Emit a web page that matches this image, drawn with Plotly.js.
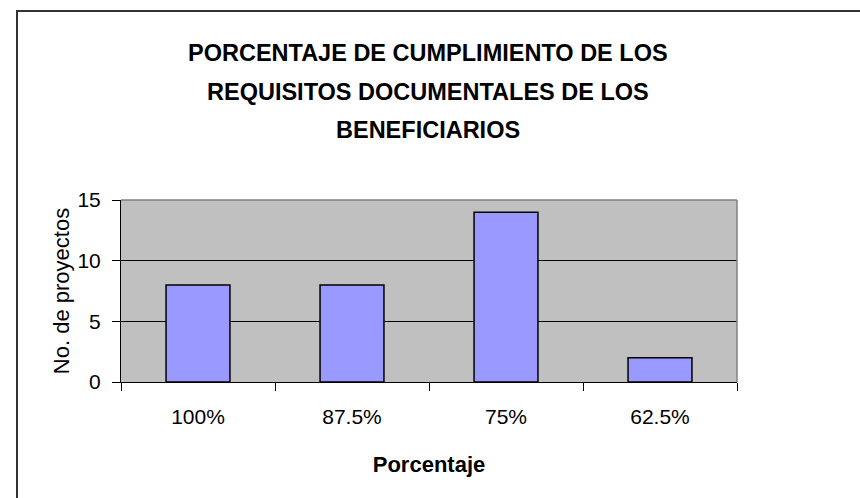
<!DOCTYPE html>
<html>
<head>
<meta charset="utf-8">
<script src="https://cdn.plot.ly/plotly-3.0.1.min.js"></script>
<style>html,body{margin:0;padding:0;background:#fff;}#chart{width:860px;height:498px;}</style>
</head>
<body>
<div id="chart"></div>
<script>
const categories = ["100%", "87.5%", "75%", "62.5%"];
const projects = [8, 8, 14, 2];
const titleLines = ["PORCENTAJE DE CUMPLIMIENTO DE LOS", "REQUISITOS DOCUMENTALES DE LOS", "BENEFICIARIOS"];
const xTitle = "Porcentaje";
const yTitle = "No. de proyectos";
const yTicks = [0, 5, 10, 15];

const W = 860, H = 498;
const L = 121, R = 737, T = 200, B = 382;
const px = x => (x - L) / (R - L);
const py = y => (B - y) / (B - T);
const FONT = "Liberation Sans, Arial, sans-serif";

const titleY = [53, 92, 130];
const annotations = titleLines.map((t, i) => ({
  text: "<b>" + t + "</b>", xref: "paper", yref: "paper",
  x: px(428), y: py(titleY[i]), xanchor: "center", yanchor: "middle",
  showarrow: false, font: {family: FONT, size: 23.5, color: "#000"}
}));

const trace = {
  type: "bar", x: categories, y: projects,
  marker: {color: "#9999FF", line: {color: "#000", width: 1.5}},
  hoverinfo: "x+y"
};

const layout = {
  width: W, height: H,
  margin: {l: L, r: W - R, t: T, b: H - B, pad: 0},
  paper_bgcolor: "#fff", plot_bgcolor: "#C0C0C0",
  showlegend: false, bargap: 0.585,
  font: {family: FONT, color: "#000"},
  xaxis: {
    type: "category", showline: true, linecolor: "#000", linewidth: 1,
    ticks: "outside", tickson: "boundaries", ticklen: 8, tickcolor: "#000", tickwidth: 1,
    showgrid: false, tickfont: {family: FONT, size: 21, color: "#000"},
    ticklabelstandoff: 16,
    title: {text: "<b>" + xTitle + "</b>", font: {family: FONT, size: 22, color: "#000"}, standoff: 29},
    fixedrange: true
  },
  yaxis: {
    range: [0, 15], tickvals: yTicks, ticktext: yTicks.map(String),
    showline: true, linecolor: "#000", linewidth: 1,
    ticks: "outside", ticklen: 8, tickcolor: "#000", tickwidth: 1,
    showgrid: true, gridcolor: "#000", gridwidth: 1, zeroline: false,
    tickfont: {family: FONT, size: 21, color: "#000"}, ticklabelstandoff: 7,
    title: {text: yTitle, font: {family: FONT, size: 22, color: "#000"}, standoff: 1},
    fixedrange: true
  },
  annotations: annotations,
  shapes: [
    {type: "line", xref: "paper", yref: "paper", x0: 0, x1: 1, y0: 1, y1: 1, line: {color: "#808080", width: 1.5}, layer: "above"},
    {type: "line", xref: "paper", yref: "paper", x0: 1, x1: 1, y0: 0, y1: 1, line: {color: "#808080", width: 1.5}, layer: "above"},
    {type: "rect", xref: "paper", yref: "paper", x0: px(17), x1: px(870), y0: py(510), y1: py(11), line: {color: "#333", width: 2}, fillcolor: "rgba(0,0,0,0)", layer: "above"}
  ]
};

Plotly.newPlot("chart", [trace], layout, {displayModeBar: false, staticPlot: true});
</script>
</body>
</html>
